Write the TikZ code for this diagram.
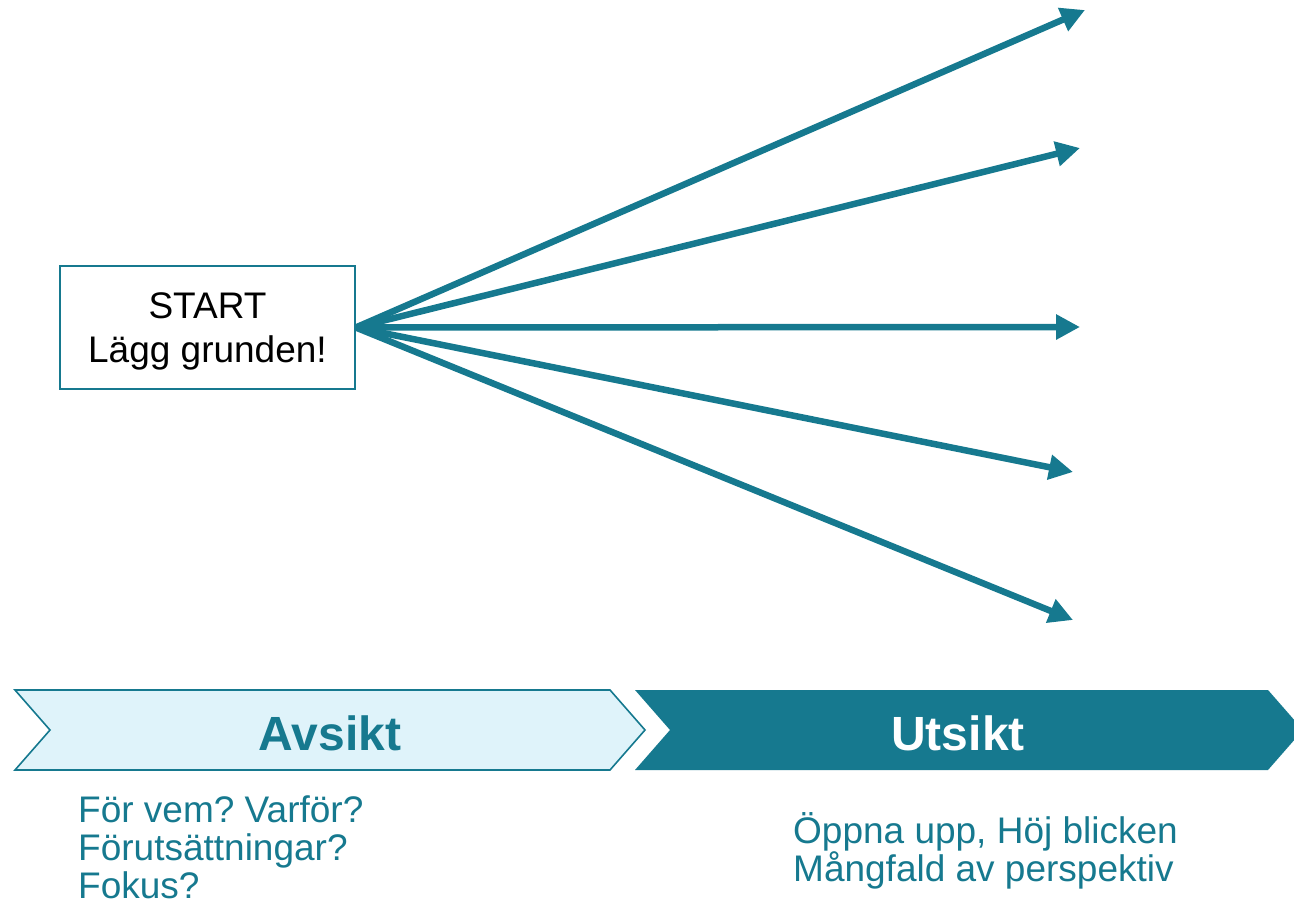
\documentclass[tikz,border=0pt]{standalone}
\usepackage{fontspec}
\setmainfont{Liberation Sans}
\usetikzlibrary{arrows.meta, positioning}
\definecolor{petrol}{HTML}{16798F}
\definecolor{paleblue}{HTML}{DFF3FA}
\frenchspacing

\begin{document}
\begin{tikzpicture}[
  x=1pt, y=-1pt,
  startbox/.style={rectangle, draw=petrol, line width=1.6pt, fill=white,
                   minimum width=295pt, minimum height=123pt, align=center,
                   text depth=0pt, font=\fontsize{37}{44}\selectfont},
  arrow/.style={draw=petrol, line width=6.5pt,
                -{Triangle[length=24pt, width=24pt]}},
  phase/.style={font=\fontsize{48}{52}\selectfont\bfseries},
  notes/.style={anchor=west, inner sep=0pt, align=left, text=petrol,
                font=\fontsize{37}{38}\selectfont}
]
\useasboundingbox (0,0) rectangle (1294,904);
\clip (0,0) rectangle (1294,904);

% --- Start box ---
\node[startbox] (start) at (207.5,327.5) {START\\Lägg grunden!};

% --- arrows: start to the open ends ---
\coordinate (t1) at (1085,10);
\coordinate (t2) at (1080,148);
\coordinate (t3) at (1080,327);
\coordinate (t4) at (1073,472);
\coordinate (t5) at (1073,620);
\foreach \t in {t1,t2,t3,t4,t5} \draw[arrow] (start.east) -- (\t);

% --- Chevrons ---
\draw[petrol, line width=1.6pt, fill=paleblue]
  (15,690) -- (610,690) -- (645,730) -- (610,770) -- (15,770) -- (50,730) -- cycle;
\fill[petrol]
  (635,690) -- (1268,690) -- (1303,730) -- (1268,770) -- (635,770) -- (670,730) -- cycle;
\node[phase, text=petrol] (avsikt) at (330,733) {Avsikt};
\node[phase, text=white] (utsikt) at (958,733) {Utsikt};

% --- Notes under the chevrons ---
\node[notes] (avsiktnotes) at (78,847) {För vem? Varför?\\Förutsättningar?\\Fokus?};
\node[notes] (utsiktnotes) at (793,851) {Öppna upp, Höj blicken\\Mångfald av perspektiv};
\end{tikzpicture}
\end{document}
